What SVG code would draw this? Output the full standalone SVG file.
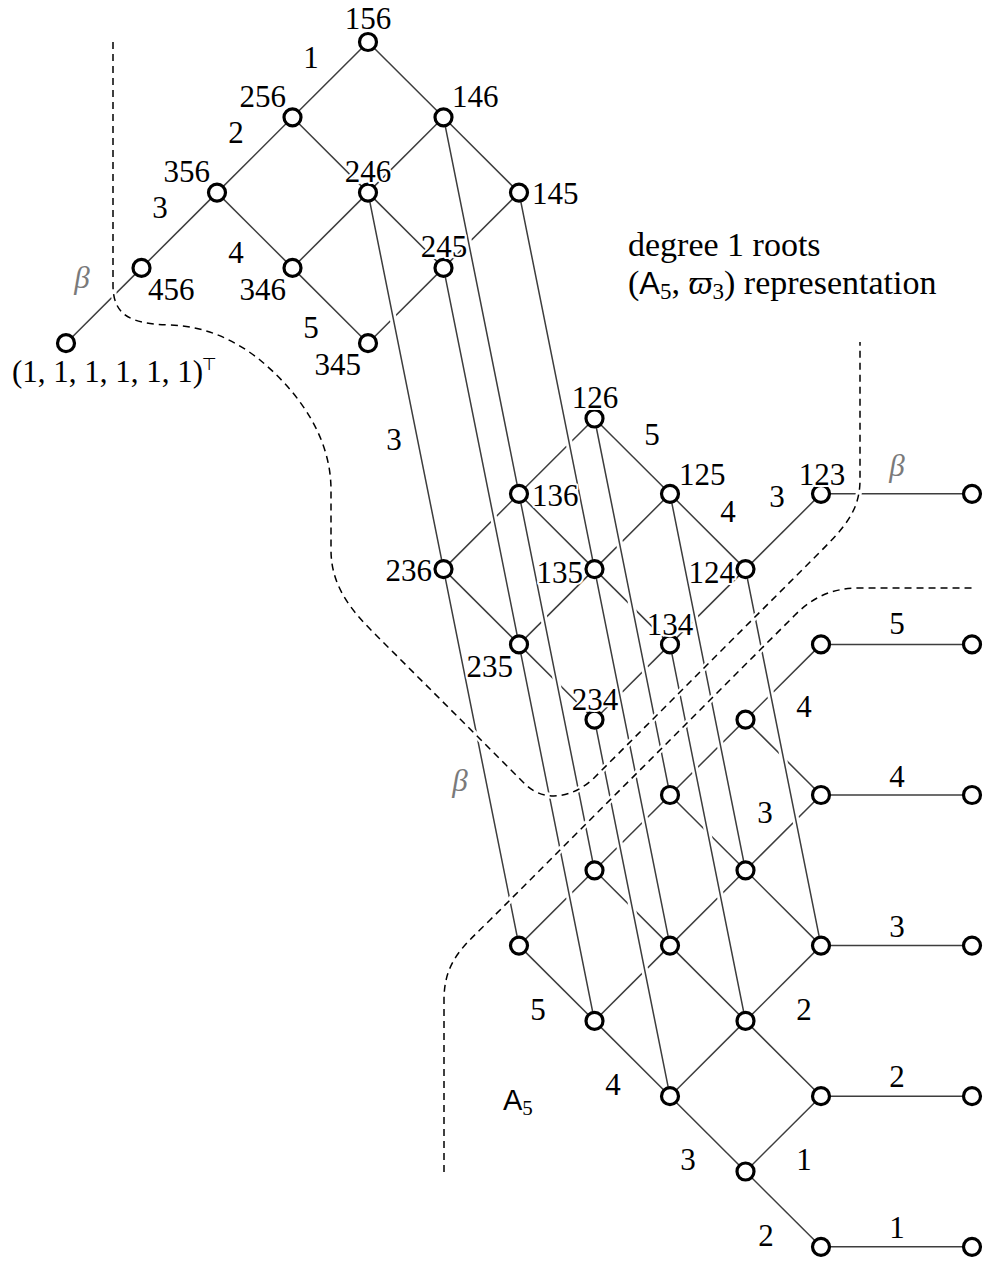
<svg xmlns="http://www.w3.org/2000/svg" width="987" height="1264" viewBox="0 0 987 1264">
<style>
.e{stroke:#3d3d3d;stroke-width:1.5;fill:none}
.h{stroke:#fff;stroke-width:7;fill:none}
.d{stroke:#000;stroke-width:1.5;stroke-dasharray:7 5;fill:none}
.dh{stroke:#fff;stroke-width:6;fill:none}
.n{fill:#fff;stroke:#000;stroke-width:3.2}
text{font-family:'Liberation Serif','DejaVu Serif',serif;font-size:31px;fill:#000}
.lbl{paint-order:stroke;stroke:#fff;stroke-width:4;stroke-linejoin:round}
.m{text-anchor:middle}
.s{text-anchor:start}
.r{text-anchor:end}
.b{font-style:italic;fill:#7a7a7a}
.sans{font-family:'Liberation Sans','DejaVu Sans',sans-serif}
</style>
<rect width="987" height="1264" fill="#fff"/>
<g id="connectors">
<g id="lattice-edges" class="e">
<line x1="368" y1="42" x2="292.5" y2="117.3"/>
<line x1="368" y1="42" x2="443.5" y2="117.3"/>
<line x1="292.5" y1="117.3" x2="217" y2="192.6"/>
<line x1="292.5" y1="117.3" x2="368" y2="192.6"/>
<line x1="443.5" y1="117.3" x2="368" y2="192.6"/>
<line x1="443.5" y1="117.3" x2="519" y2="192.6"/>
<line x1="217" y1="192.6" x2="141.5" y2="267.9"/>
<line x1="217" y1="192.6" x2="292.5" y2="267.9"/>
<line x1="368" y1="192.6" x2="292.5" y2="267.9"/>
<line x1="368" y1="192.6" x2="443.5" y2="267.9"/>
<line x1="519" y1="192.6" x2="443.5" y2="267.9"/>
<line x1="292.5" y1="267.9" x2="368" y2="343.2"/>
<line x1="443.5" y1="267.9" x2="368" y2="343.2"/>
<line x1="141.5" y1="267.9" x2="66" y2="343.2"/>
<line x1="594.5" y1="418.5" x2="519" y2="493.8"/>
<line x1="594.5" y1="418.5" x2="670" y2="493.8"/>
<line x1="519" y1="493.8" x2="443.5" y2="569.1"/>
<line x1="519" y1="493.8" x2="594.5" y2="569.1"/>
<line x1="670" y1="493.8" x2="594.5" y2="569.1"/>
<line x1="670" y1="493.8" x2="745.5" y2="569.1"/>
<line x1="443.5" y1="569.1" x2="519" y2="644.4"/>
<line x1="594.5" y1="569.1" x2="519" y2="644.4"/>
<line x1="594.5" y1="569.1" x2="670" y2="644.4"/>
<line x1="745.5" y1="569.1" x2="670" y2="644.4"/>
<line x1="745.5" y1="569.1" x2="821" y2="493.8"/>
<line x1="519" y1="644.4" x2="594.5" y2="719.7"/>
<line x1="670" y1="644.4" x2="594.5" y2="719.7"/>
<line x1="821" y1="493.8" x2="972" y2="493.8"/>
<line x1="821" y1="644.4" x2="745.5" y2="719.7"/>
<line x1="745.5" y1="719.7" x2="670" y2="795"/>
<line x1="745.5" y1="719.7" x2="821" y2="795"/>
<line x1="670" y1="795" x2="594.5" y2="870.3"/>
<line x1="670" y1="795" x2="745.5" y2="870.3"/>
<line x1="821" y1="795" x2="745.5" y2="870.3"/>
<line x1="594.5" y1="870.3" x2="519" y2="945.6"/>
<line x1="594.5" y1="870.3" x2="670" y2="945.6"/>
<line x1="745.5" y1="870.3" x2="670" y2="945.6"/>
<line x1="745.5" y1="870.3" x2="821" y2="945.6"/>
<line x1="519" y1="945.6" x2="594.5" y2="1020.9"/>
<line x1="670" y1="945.6" x2="594.5" y2="1020.9"/>
<line x1="670" y1="945.6" x2="745.5" y2="1020.9"/>
<line x1="821" y1="945.6" x2="745.5" y2="1020.9"/>
<line x1="594.5" y1="1020.9" x2="670" y2="1096.2"/>
<line x1="745.5" y1="1020.9" x2="670" y2="1096.2"/>
<line x1="745.5" y1="1020.9" x2="821" y2="1096.2"/>
<line x1="670" y1="1096.2" x2="745.5" y2="1171.5"/>
<line x1="821" y1="1096.2" x2="745.5" y2="1171.5"/>
<line x1="745.5" y1="1171.5" x2="821" y2="1246.8"/>
<line x1="821" y1="644.4" x2="972" y2="644.4"/>
<line x1="821" y1="795" x2="972" y2="795"/>
<line x1="821" y1="945.6" x2="972" y2="945.6"/>
<line x1="821" y1="1096.2" x2="972" y2="1096.2"/>
<line x1="821" y1="1246.8" x2="972" y2="1246.8"/>
</g>
<g id="long-edges">
<path class="h" d="M368 192.6L443.5 569.1M443.5 117.3L519 493.8M443.5 267.9L519 644.4M519 192.6L594.5 569.1M443.5 569.1L519 945.6M519 493.8L594.5 870.3M519 644.4L594.5 1020.9M594.5 418.5L670 795M594.5 569.1L670 945.6M594.5 719.7L670 1096.2M670 493.8L745.5 870.3M670 644.4L745.5 1020.9M745.5 569.1L821 945.6"/>
<path class="e" d="M368 192.6L443.5 569.1M443.5 117.3L519 493.8M443.5 267.9L519 644.4M519 192.6L594.5 569.1M443.5 569.1L519 945.6M519 493.8L594.5 870.3M519 644.4L594.5 1020.9M594.5 418.5L670 795M594.5 569.1L670 945.6M594.5 719.7L670 1096.2M670 493.8L745.5 870.3M670 644.4L745.5 1020.9M745.5 569.1L821 945.6"/>
</g>
<g id="edge-labels">
<text class="m" x="311" y="68">1</text>
<text class="m" x="236" y="143">2</text>
<text class="m" x="160" y="218">3</text>
<text class="m" x="236" y="263">4</text>
<text class="m" x="311" y="338">5</text>
<text class="m b" x="82" y="288">β</text>
<text class="m" x="394" y="450">3</text>
<text class="m" x="652" y="445">5</text>
<text class="m" x="728" y="522">4</text>
<text class="m" x="777" y="507">3</text>
<text class="m b" x="897" y="476">β</text>
<text class="m b" x="460" y="791">β</text>
<text class="m" x="897" y="634">5</text>
<text class="m" x="804" y="717">4</text>
<text class="m" x="897" y="787">4</text>
<text class="m" x="765" y="823">3</text>
<text class="m" x="897" y="937">3</text>
<text class="m" x="538" y="1020">5</text>
<text class="m" x="804" y="1020">2</text>
<text class="m" x="897" y="1087">2</text>
<text class="m" x="613" y="1095">4</text>
<text class="m" x="688" y="1170">3</text>
<text class="m" x="804" y="1170">1</text>
<text class="m" x="897" y="1238">1</text>
<text class="m" x="766" y="1246">2</text>
</g>
</g>
<g id="boundaries">
<path class="dh" d="M113 42L113 285C113 315 130 324 170 325C205 326 235 340 260 360C290 385 331 430 331 490L331 550C331 585 350 609 373 632L525 784C545 804 575 797 595 777L820 552C845 527 860 510 860 480L860 342"/>
<path class="d" d="M113 42L113 285C113 315 130 324 170 325C205 326 235 340 260 360C290 385 331 430 331 490L331 550C331 585 350 609 373 632L525 784C545 804 575 797 595 777L820 552C845 527 860 510 860 480L860 342"/>
<path class="dh" d="M444 1172L444 1000C444 960 465 945 490 920L795 615C815 595 835 588 860 588L975 588"/>
<path class="d" d="M444 1172L444 1000C444 960 465 945 490 920L795 615C815 595 835 588 860 588L975 588"/>
</g>
<g id="titles">
<text x="628" y="256" style="font-size:34px">degree 1 roots</text>
<text x="628" y="294" style="font-size:34px">(<tspan class="sans" style="font-size:31px">A</tspan><tspan dy="5" style="font-size:23px">5</tspan><tspan dy="-5">, </tspan><tspan style="font-style:italic">ϖ</tspan><tspan dy="5" style="font-size:23px">3</tspan><tspan dy="-5">) representation</tspan></text>
<text x="503" y="1110"><tspan class="sans" style="font-size:29px">A</tspan><tspan dy="5" style="font-size:21px">5</tspan></text>
</g>
<g id="nodes">
<g id="n156"><circle class="n" cx="368" cy="42" r="8.5"/><text class="m lbl" x="368" y="29">156</text></g>
<g id="n256"><circle class="n" cx="292.5" cy="117.3" r="8.5"/><text class="r lbl" x="286" y="107">256</text></g>
<g id="n146"><circle class="n" cx="443.5" cy="117.3" r="8.5"/><text class="s lbl" x="452" y="107">146</text></g>
<g id="n356"><circle class="n" cx="217" cy="192.6" r="8.5"/><text class="r lbl" x="210" y="182">356</text></g>
<g id="n246"><circle class="n" cx="368" cy="192.6" r="8.5"/><text class="m lbl" x="368" y="182">246</text></g>
<g id="n145"><circle class="n" cx="519" cy="192.6" r="8.5"/><text class="s lbl" x="532" y="204">145</text></g>
<g id="n456"><circle class="n" cx="141.5" cy="267.9" r="8.5"/><text class="s lbl" x="148" y="300">456</text></g>
<g id="n346"><circle class="n" cx="292.5" cy="267.9" r="8.5"/><text class="r lbl" x="286" y="300">346</text></g>
<g id="n245"><circle class="n" cx="443.5" cy="267.9" r="8.5"/><text class="m lbl" x="444" y="257">245</text></g>
<g id="n345"><circle class="n" cx="368" cy="343.2" r="8.5"/><text class="r lbl" x="361" y="375">345</text></g>
<g id="n111111"><circle class="n" cx="66" cy="343.2" r="8.5"/><text class="s lbl" x="12" y="382">(1, 1, 1, 1, 1, 1)</text><text class="s" x="202" y="370" style="font-family:'DejaVu Sans',sans-serif;font-size:17px">⊤</text></g>
<g id="n126"><circle class="n" cx="594.5" cy="418.5" r="8.5"/><text class="m lbl" x="595" y="408">126</text></g>
<g id="n136"><circle class="n" cx="519" cy="493.8" r="8.5"/><text class="s lbl" x="532" y="506">136</text></g>
<g id="n125"><circle class="n" cx="670" cy="493.8" r="8.5"/><text class="s lbl" x="679" y="485">125</text></g>
<g id="n123"><circle class="n" cx="821" cy="493.8" r="8.5"/><text class="m lbl" x="822" y="485">123</text></g>
<g id="n123b"><circle class="n" cx="972" cy="493.8" r="8.5"/></g>
<g id="n236"><circle class="n" cx="443.5" cy="569.1" r="8.5"/><text class="r lbl" x="432" y="581">236</text></g>
<g id="n135"><circle class="n" cx="594.5" cy="569.1" r="8.5"/><text class="r lbl" x="583" y="583">135</text></g>
<g id="n124"><circle class="n" cx="745.5" cy="569.1" r="8.5"/><text class="r lbl" x="735" y="583">124</text></g>
<g id="n235"><circle class="n" cx="519" cy="644.4" r="8.5"/><text class="r lbl" x="513" y="677">235</text></g>
<g id="n134"><circle class="n" cx="670" cy="644.4" r="8.5"/><text class="m lbl" x="670" y="635">134</text></g>
<g id="n234"><circle class="n" cx="594.5" cy="719.7" r="8.5"/><text class="m lbl" x="595" y="710">234</text></g>
<g id="a-10-8"><circle class="n" cx="821" cy="644.4" r="8.5"/></g>
<g id="a-12-8"><circle class="n" cx="972" cy="644.4" r="8.5"/></g>
<g id="a-9-9"><circle class="n" cx="745.5" cy="719.7" r="8.5"/></g>
<g id="a-8-10"><circle class="n" cx="670" cy="795" r="8.5"/></g>
<g id="a-10-10"><circle class="n" cx="821" cy="795" r="8.5"/></g>
<g id="a-12-10"><circle class="n" cx="972" cy="795" r="8.5"/></g>
<g id="a-7-11"><circle class="n" cx="594.5" cy="870.3" r="8.5"/></g>
<g id="a-9-11"><circle class="n" cx="745.5" cy="870.3" r="8.5"/></g>
<g id="a-6-12"><circle class="n" cx="519" cy="945.6" r="8.5"/></g>
<g id="a-8-12"><circle class="n" cx="670" cy="945.6" r="8.5"/></g>
<g id="a-10-12"><circle class="n" cx="821" cy="945.6" r="8.5"/></g>
<g id="a-12-12"><circle class="n" cx="972" cy="945.6" r="8.5"/></g>
<g id="a-7-13"><circle class="n" cx="594.5" cy="1020.9" r="8.5"/></g>
<g id="a-9-13"><circle class="n" cx="745.5" cy="1020.9" r="8.5"/></g>
<g id="a-8-14"><circle class="n" cx="670" cy="1096.2" r="8.5"/></g>
<g id="a-10-14"><circle class="n" cx="821" cy="1096.2" r="8.5"/></g>
<g id="a-12-14"><circle class="n" cx="972" cy="1096.2" r="8.5"/></g>
<g id="a-9-15"><circle class="n" cx="745.5" cy="1171.5" r="8.5"/></g>
<g id="a-10-16"><circle class="n" cx="821" cy="1246.8" r="8.5"/></g>
<g id="a-12-16"><circle class="n" cx="972" cy="1246.8" r="8.5"/></g>
</g>
</svg>
